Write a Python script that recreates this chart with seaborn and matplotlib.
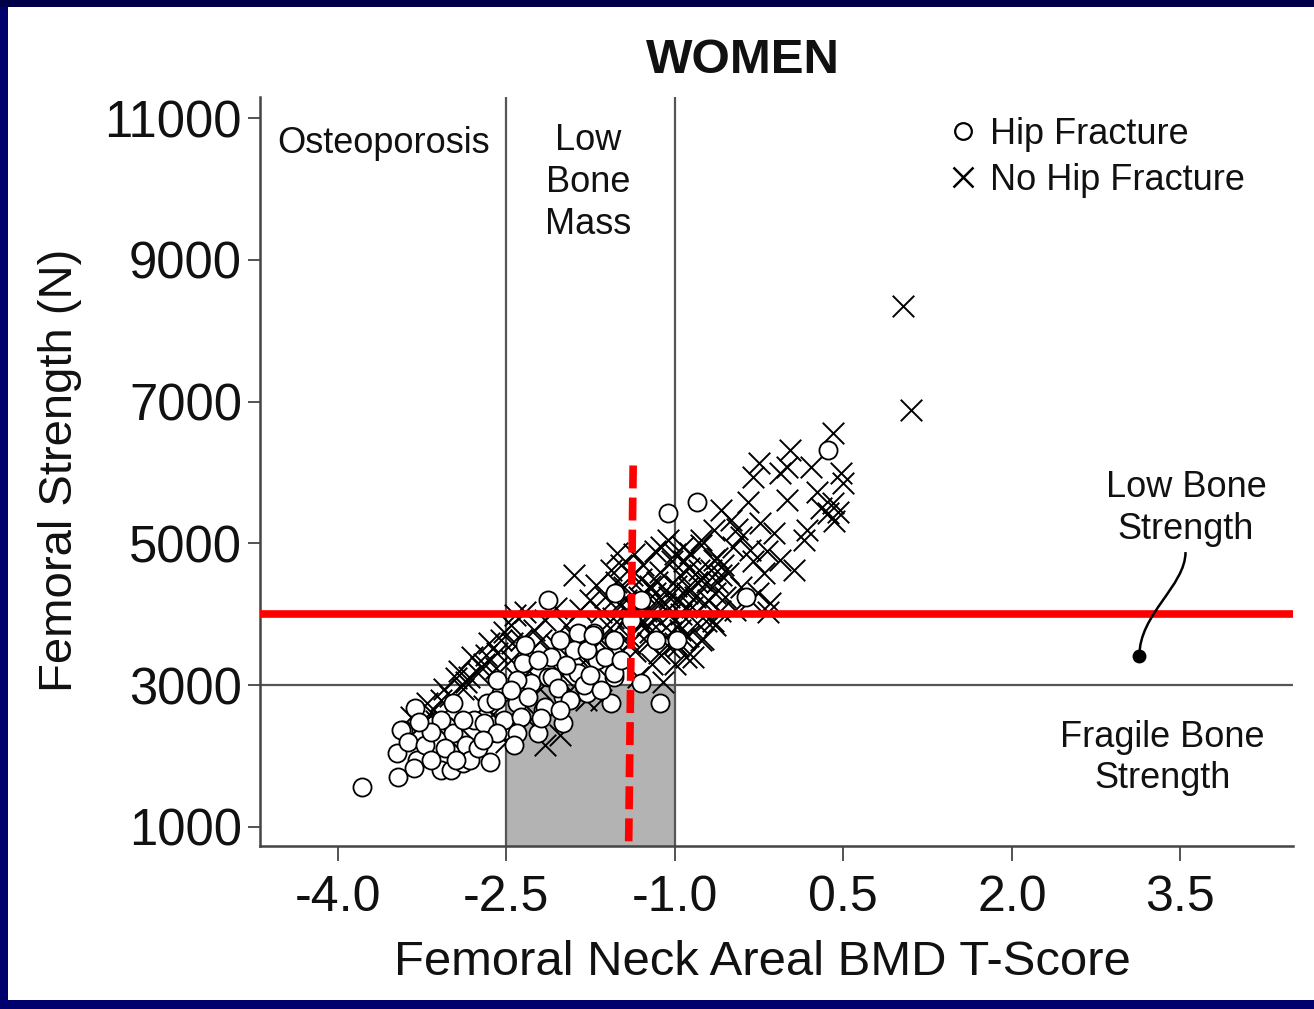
import numpy as np
import pandas as pd
import matplotlib
matplotlib.use("Agg")
import matplotlib.pyplot as plt
import seaborn as sns
from matplotlib.patches import Rectangle, PathPatch
from matplotlib.path import Path
from matplotlib.lines import Line2D

# ---------------- data ----------------
hip_x = [-3.78, -3.46, -3.47, -3.42, -3.31, -3.29, -3.08, -2.99, -2.88, -2.64,
         -2.97, -3.08, -2.97, -2.79, -2.64, -2.49, -2.55, -2.58, -2.40, -2.22,
         -2.17, -1.99, -2.28, -2.13, -2.35, -2.10, -1.86, -1.72, -1.86, -1.69,
         -1.54, -1.54, -1.57, -1.13, -0.98, -2.13, -1.53, -1.06, -0.80, -1.78,
         -1.99, -0.37, 0.36, -2.22, -2.40, -2.09, -2.04, -1.81, -2.67, -2.31,
         -2.15, -1.93, -2.70, -2.52, -2.37, -2.19, -2.58, -2.40, -1.62, -1.54,
         -1.90, -1.78, -1.73, -3.44, -3.37, -3.22, -3.17, -3.04, -2.86, -2.82,
         -2.75, -3.17, -3.28, -2.88, -2.43, -2.02, -1.66, -1.75, -1.97, -2.46,
         -2.33, -2.02, -1.39, -1.30, -1.17, -1.48, -1.30, -2.59, -2.71, -2.95,
         -3.32]
hip_y = [1564, 1705, 2043, 2368, 2678, 1945, 1804, 1804, 1902, 1917,
         2325, 2509, 2748, 2509, 2325, 2368, 2889, 3073, 2748, 2325,
         2650, 2466, 3030, 3115, 3312, 3397, 3735, 3735, 3171, 3355,
         3637, 3115, 2748, 2748, 3637, 4200, 4300, 5427, 5582, 2889,
         2833, 4243, 6316, 3355, 3073, 3115, 2960, 3002, 2748, 2833,
         2692, 2791, 2466, 2509, 2551, 2537, 2325, 2325, 3397, 3171,
         3496, 3496, 3707, 2368, 2199, 2156, 1945, 2114, 2156, 1945,
         2114, 2340, 2481, 2509, 2156, 2650, 2932, 3143, 3284, 2932,
         3566, 3637, 3919, 4201, 3637, 3355, 3030, 2791, 2227, 1945,
         1832]

nohip_x = [
    # lower-left part of band
    -2.95, -2.83, -2.75, -3.08, -3.17, -3.26, -3.00, -2.55, -2.46, -2.42,
    -2.88, -2.70, -3.12, -2.62, -2.50,
    -3.35, -3.20, -3.05, -2.92, -2.80, -2.65, -2.52, -2.45, -2.58, -2.72,
    -2.86, -3.00, -3.22, -2.90, -2.70, -2.50, -2.30, -2.10, -1.90, -2.35,
    -2.20, -2.00, -1.80, -1.60, -2.50, -2.30,
    # middle of band
    -2.33, -2.15, -2.06, -1.90, -1.84, -1.75, -1.66, -1.97, -2.19, -2.28,
    -2.46, -2.59, -2.68, -2.37, -2.06, -1.88, -1.93, -1.79, -1.66, -2.02,
    -2.15, -1.66, -1.70, -1.57, -1.51, -1.62, -2.25, -1.80, -1.72, -2.40,
    # dense core
    -1.55, -1.50, -1.45, -1.42, -1.40, -1.38, -1.35, -1.33, -1.32, -1.30,
    -1.28, -1.26, -1.24, -1.22, -1.20, -1.18, -1.17, -1.15, -1.13, -1.12,
    -1.10, -1.08, -1.06, -1.05, -1.04, -1.02, -1.00, -0.98, -0.96, -0.95,
    -0.93, -0.92, -0.90, -0.88, -0.86, -0.84, -0.82, -0.80, -0.78, -0.77,
    -0.75, -0.73, -0.71, -0.68, -0.66, -0.64, -0.62, -0.60, -0.59, -0.55,
    -1.48, -1.36, -1.25, -1.14, -1.27, -1.09, -0.99, -1.47, -1.58, -1.43,
    -1.20, -0.94, -0.87, -1.03, -1.33, -1.16, -0.72,
    -1.52, -1.40, -1.30, -1.22, -1.12, -1.05, -0.97, -0.92, -0.85, -0.80,
    -0.70, -0.62, -0.57, -1.35, -1.18, -1.45, -1.00, -0.88,
    # upper-right arm
    0.41, 0.03, -0.25, 0.00, 0.21, -0.30, -0.06, 0.48, 0.50, 0.27,
    0.00, 0.41, -0.35, 0.36, 0.18, 0.15, -0.50, -0.59, -0.24, -0.12,
    0.06, -0.21, -0.06, -0.33, -0.41, -0.65, -0.77, -0.65, -0.53, -0.41,
    -0.77, -0.15, -0.26, -0.89, 0.45, 0.42, 0.30, -0.45, -0.30, -0.48,
    -0.18,
    # below threshold, right of -1
    -0.77, -0.64, -0.46, -0.17, -0.33, -0.95, -0.90, -1.00,
    # outliers
    1.03, 1.10]
nohip_y = [
    3100, 3115, 3170, 2790, 2620, 2440, 2230, 3640, 3850, 3990,
    2950, 3300, 2500, 2600, 2450,
    2550, 2750, 2950, 3200, 3400, 3600, 3750, 3600, 3450, 3250,
    3050, 2850, 2500, 2400, 2700, 2900, 3200, 3450, 3700, 2750,
    2950, 3150, 3350, 3500, 2200, 2500,
    4030, 3920, 4090, 4550, 4060, 4200, 4030, 3850, 3640, 3500,
    3350, 3240, 3430, 3640, 3570, 3430, 2930, 2790, 2790, 2300,
    2160, 3640, 4410, 4620, 4860, 4240, 3780, 3650, 3300, 3100,
    3950, 4150, 4380, 3700, 4020, 4560, 3480, 3115, 4250, 3850,
    4700, 4050, 3600, 4400, 3300, 4900, 3950, 4180, 4600, 3750,
    3050, 4350, 5047, 3540, 4000, 4750, 3300, 4200, 3850, 4550,
    4950, 3650, 4100, 4380, 4863, 3400, 4250, 3880, 4620, 4976,
    3650, 4150, 4450, 4624, 3900, 4300, 4800, 4050, 4553, 4250,
    4700, 4850, 3850, 3450, 4300, 4150, 4400, 3500, 3800, 4200,
    4050, 4000, 4650, 3750, 3950, 4450, 3900,
    4450, 3600, 4500, 3750, 4950, 4250, 3550, 4750, 4100, 4450,
    4200, 4450, 4700, 4100, 4300, 3900, 4850, 3700,
    6555, 6316, 6132, 6076, 6076, 5935, 5991, 5991, 5850, 5723,
    5611, 5568, 5582, 5427, 5188, 5047, 5329, 5470, 5286, 5145,
    4624, 4581, 4765, 4906, 5089, 5188, 5047, 4765, 4581, 4384,
    4483, 4158, 4299, 4299, 5450, 5320, 5500, 5200, 4750, 4950,
    4900,
    3640, 3850, 4060, 4030, 4200, 3780, 3400, 3600,
    8346, 6880]

x_ticks = [-4.0, -2.5, -1.0, 0.5, 2.0, 3.5]
x_tick_labels = ["-4.0", "-2.5", "-1.0", "0.5", "2.0", "3.5"]
y_ticks = [1000, 3000, 5000, 7000, 9000, 11000]

osteo_cut = -2.5
lowmass_cut = -1.0
fragile_cut = 3000
low_strength_cut = 4000
dashed_tscore = -1.39

hip_df = pd.DataFrame({"t": hip_x, "s": hip_y})
nohip_df = pd.DataFrame({"t": nohip_x, "s": nohip_y})

# ---------------- style ----------------
sns.set_theme(style="white")
plt.rcParams["font.family"] = ["Liberation Sans", "DejaVu Sans"]
TXT = "#111111"
LINE = "#555555"

fig = plt.figure(figsize=(13.14, 10.09), dpi=100, facecolor="#00006e")
fig.patches.append(Rectangle((8 / 1314, 9 / 1009), 1, 1 - 16 / 1009,
                             transform=fig.transFigure, facecolor="white",
                             edgecolor="none", zorder=-10))
fig.patches.append(Rectangle((0, 1 - 7 / 1009), 1, 7 / 1009,
                             transform=fig.transFigure, facecolor="#000048",
                             edgecolor="none", zorder=-9))

ax = fig.add_axes([0.1979, 0.1615, 0.786, 0.7424])
ax.set_facecolor("none")
ax.set_xlim(-4.69, 4.5)
ax.set_ylim(730, 11300)

# shaded region & reference lines
ax.add_patch(Rectangle((osteo_cut, 730), lowmass_cut - osteo_cut, fragile_cut - 730,
                       facecolor="#b3b3b3", edgecolor="none", zorder=0))
ax.axvline(osteo_cut, color=LINE, lw=1.6, zorder=1)
ax.axvline(lowmass_cut, color=LINE, lw=1.6, zorder=1)
ax.axhline(fragile_cut, color=LINE, lw=1.6, zorder=1)

# points
sns.scatterplot(data=nohip_df, x="t", y="s", marker="x", color="black",
                s=240, linewidth=1.4, ax=ax, zorder=3, legend=False)
sns.scatterplot(data=hip_df, x="t", y="s", marker="o", facecolor="white",
                edgecolor="black", s=170, linewidth=1.3, ax=ax, zorder=4,
                legend=False)

# red thresholds
ax.axhline(low_strength_cut, color="#ff0000", lw=5.5, zorder=6)
ax.plot([dashed_tscore + 0.02, dashed_tscore - 0.02], [6100, 760],
        color="#ff0000", lw=5.5, dashes=(3.0, 1.2), zorder=6, solid_capstyle="butt")

# axes styling
for side in ["top", "right"]:
    ax.spines[side].set_visible(False)
for side in ["left", "bottom"]:
    ax.spines[side].set_color("#444444")
    ax.spines[side].set_linewidth(1.8)
ax.set_xticks(x_ticks)
ax.set_xticklabels(x_tick_labels)
ax.set_yticks(y_ticks)
ax.tick_params(axis="x", direction="out", length=11, width=1.3, color="#444444",
               labelsize=36, labelcolor=TXT, pad=10, bottom=True)
ax.tick_params(axis="y", direction="out", length=9, width=1.3, color="#444444",
               labelsize=36.5, labelcolor=TXT, pad=4, left=True)
ax.set_xlabel("")
ax.set_ylabel("")

# region labels
ax.text(-3.59, 10644, "Osteoporosis", ha="center", va="center", fontsize=26, color=TXT)
ax.text(-1.77, 10095, "Low\nBone\nMass", ha="center", va="center", fontsize=26,
        color=TXT, linespacing=1.25)
ax.text(3.55, 5498, "Low Bone\nStrength", ha="center", va="center", fontsize=26,
        color=TXT, linespacing=1.25)
ax.text(3.34, 1973, "Fragile Bone\nStrength", ha="center", va="center", fontsize=26,
        color=TXT, linespacing=1.25)

# curved pointer
curve = Path([(3.545, 4878), (3.545, 4400), (3.13, 4000), (3.135, 3411)],
             [Path.MOVETO, Path.CURVE4, Path.CURVE4, Path.CURVE4])
ax.add_patch(PathPatch(curve, fill=False, lw=1.8, edgecolor="black", zorder=7))
ax.plot([3.135], [3411], "o", ms=9, color="black", zorder=8)

# legend
handles = [Line2D([], [], ls="none", marker="o", ms=12, mfc="white", mec="black", mew=1.6),
           Line2D([], [], ls="none", marker="x", ms=14, color="black", mew=1.8)]
fig.legend(handles, ["Hip Fracture", "No Hip Fracture"], loc="upper left",
           bbox_to_anchor=(0.722, 0.884), frameon=False, fontsize=26,
           handlelength=0.8, handletextpad=0.35, labelspacing=0.3,
           borderpad=0, borderaxespad=0, labelcolor=TXT)

# titles
fig.text(0.5654, 0.9405, "WOMEN", ha="center", va="center", fontsize=35.5,
         fontweight="bold", color=TXT)
fig.text(0.0457, 0.534, "Femoral Strength (N)", ha="center", va="center",
         rotation=90, fontsize=34, color=TXT)
fig.text(0.58, 0.0456, "Femoral Neck Areal BMD T-Score", ha="center", va="center",
         fontsize=35.3, color=TXT)

fig.savefig("out.png", dpi=100, facecolor=fig.get_facecolor())
